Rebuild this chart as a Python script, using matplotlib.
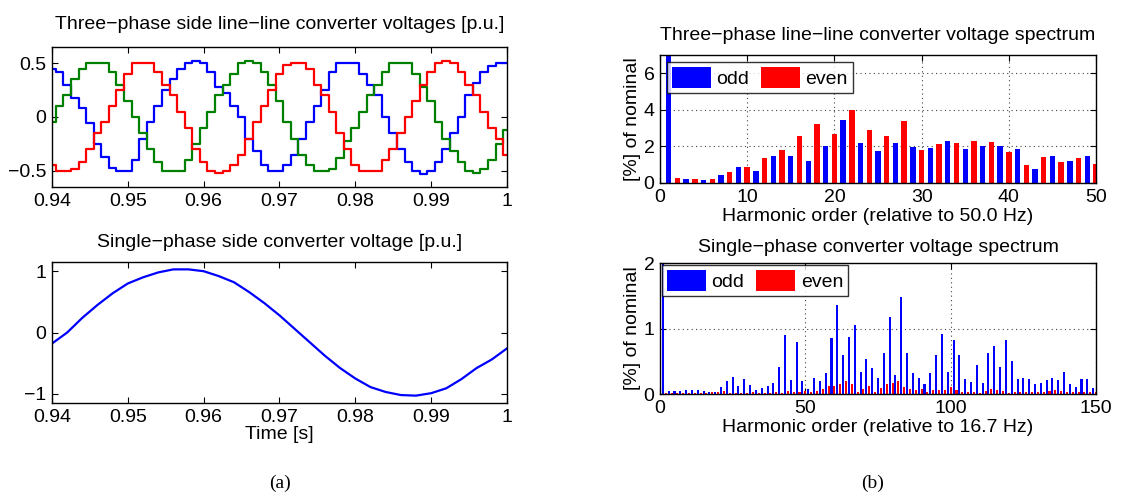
import numpy as np
import matplotlib
matplotlib.use("Agg")
import matplotlib.pyplot as plt
from matplotlib.ticker import FixedLocator

plt.rcParams["font.family"] = ["Liberation Sans", "DejaVu Sans"]
plt.rcParams["font.size"] = 14
plt.rcParams["axes.unicode_minus"] = True

MINUS = "\u2212"

# ---- time-domain waveforms (1 ms / 2 ms samples) ----
T3 = np.linspace(0.94, 1.0, 61)
V_BLUE = [0.45, 0.42, 0.30, 0.18, 0.08, -0.06, -0.25, -0.37, -0.47, -0.50,
          -0.50, -0.40, -0.20, -0.05, 0.10, 0.25, 0.35, 0.45, 0.50, 0.52,
          0.50, 0.42, 0.28, 0.22, 0.10, 0.00, -0.20, -0.32, -0.45, -0.50,
          -0.50, -0.45, -0.35, -0.20, -0.05, 0.10, 0.25, 0.42, 0.50, 0.50,
          0.50, 0.40, 0.30, 0.20, 0.00, -0.15, -0.30, -0.42, -0.50, -0.53,
          -0.50, -0.42, -0.30, -0.15, 0.00, 0.20, 0.32, 0.42, 0.47, 0.50,
          0.50]
V_RED = [-0.45, -0.50, -0.50, -0.48, -0.42, -0.30, -0.15, -0.05, 0.10, 0.25,
         0.40, 0.50, 0.50, 0.50, 0.42, 0.30, 0.20, 0.05, -0.10, -0.30,
         -0.42, -0.50, -0.52, -0.50, -0.45, -0.35, -0.20, -0.05, 0.10, 0.25,
         0.40, 0.48, 0.50, 0.50, 0.45, 0.30, 0.20, 0.05, -0.15, -0.30,
         -0.45, -0.50, -0.50, -0.50, -0.40, -0.30, -0.15, 0.00, 0.15, 0.30,
         0.42, 0.50, 0.52, 0.50, 0.42, 0.30, 0.20, 0.05, -0.10, -0.20,
         -0.35]
V_GREEN = [-0.05, 0.10, 0.20, 0.35, 0.45, 0.50, 0.50, 0.50, 0.42, 0.30,
           0.15, 0.00, -0.15, -0.30, -0.42, -0.50, -0.50, -0.50, -0.40, -0.25,
           -0.10, 0.05, 0.20, 0.30, 0.40, 0.50, 0.52, 0.50, 0.42, 0.30,
           0.15, -0.05, -0.20, -0.35, -0.45, -0.50, -0.50, -0.48, -0.38, -0.22,
           -0.10, 0.05, 0.20, 0.30, 0.42, 0.50, 0.50, 0.50, 0.40, 0.28,
           0.15, -0.05, -0.20, -0.32, -0.42, -0.50, -0.52, -0.48, -0.40, -0.25,
           -0.12]

T1 = np.linspace(0.94, 1.0, 31)
V_SINGLE = [-0.18, 0.00, 0.24, 0.45, 0.64, 0.80, 0.90, 0.98, 1.03, 1.03,
            1.00, 0.92, 0.82, 0.66, 0.48, 0.28, 0.06, -0.16, -0.38, -0.58,
            -0.75, -0.89, -0.97, -1.02, -1.03, -0.99, -0.91, -0.76, -0.58, -0.44,
            -0.26]

# ---- spectra, % of nominal (fundamental clipped by the axis) ----
H3_ODD = np.arange(1, 51, 2)
H3_EVEN = np.arange(2, 51, 2)
S3_ODD = [100, 0.22, 0.16, 0.45, 0.87, 0.67, 1.49, 1.49, 1.22, 2.04,
          3.45, 2.20, 1.76, 2.20, 1.98, 1.93, 2.31, 1.87, 2.04, 2.00,
          1.87, 0.78, 1.49, 1.22, 1.49]
S3_EVEN = [0.27, 0.22, 0.22, 0.60, 0.87, 1.38, 1.80, 2.58, 3.24, 2.69,
           4.00, 2.91, 2.58, 3.40, 1.82, 2.15, 2.20, 2.31, 2.25, 1.71,
           0.96, 1.44, 1.16, 1.38, 1.05]

H1_ODD = np.arange(1, 151, 2)
H1_EVEN = np.arange(2, 151, 2)
S1_ODD = [100, 0.05, 0.05, 0.05, 0.06, 0.06, 0.06, 0.05, 0.03, 0.03,
          0.11, 0.20, 0.26, 0.12, 0.23, 0.14, 0.06, 0.09, 0.12, 0.17,
          0.42, 0.90, 0.22, 0.80, 0.20, 0.08, 0.25, 0.20, 0.32, 0.85,
          1.36, 0.60, 0.87, 1.05, 0.34, 0.54, 0.40, 0.25, 0.63, 1.17,
          0.29, 1.48, 0.62, 0.32, 0.25, 0.15, 0.32, 0.60, 0.91, 0.34,
          0.82, 0.59, 0.23, 0.18, 0.45, 0.17, 0.62, 0.73, 0.42, 0.83,
          0.51, 0.23, 0.25, 0.23, 0.15, 0.17, 0.22, 0.25, 0.22, 0.34,
          0.15, 0.11, 0.23, 0.23, 0.09]
S1_EVEN = [0.02, 0.02, 0.02, 0.02, 0.02, 0.02, 0.02, 0.02, 0.03, 0.03,
           0.04, 0.02, 0.02, 0.02, 0.02, 0.03, 0.02, 0.02, 0.02, 0.03,
           0.02, 0.04, 0.03, 0.03, 0.05, 0.03, 0.04, 0.08, 0.12, 0.12,
           0.15, 0.20, 0.15, 0.03, 0.08, 0.12, 0.03, 0.09, 0.15, 0.17,
           0.20, 0.11, 0.08, 0.06, 0.08, 0.03, 0.06, 0.06, 0.06, 0.11,
           0.06, 0.03, 0.03, 0.03, 0.02, 0.04, 0.07, 0.06, 0.05, 0.02,
           0.03, 0.03, 0.03, 0.03, 0.03, 0.03, 0.05, 0.06, 0.05, 0.03,
           0.03, 0.03, 0.03, 0.03, 0.03]

BLUE, RED, GREEN = "#0000ff", "#ff0000", "#008000"
FS = 14


def _style(ax):
    ax.tick_params(direction="in", top=True, right=True, length=4, width=0.8,
                   labelsize=FS, pad=4)
    for s in ax.spines.values():
        s.set_linewidth(1.0)


def _fmt(v):
    return f"{v:g}".replace("-", MINUS)


def _time_axes(ax, yticks, ylim):
    ax.set_xlim(0.94, 1.0)
    ax.set_ylim(*ylim)
    xt = [0.94, 0.95, 0.96, 0.97, 0.98, 0.99, 1.0]
    ax.xaxis.set_major_locator(FixedLocator(xt))
    ax.set_xticklabels([_fmt(v) for v in xt])
    ax.yaxis.set_major_locator(FixedLocator(yticks))
    ax.set_yticklabels([_fmt(v) for v in yticks])
    _style(ax)


def _spectrum(ax, h_odd, s_odd, h_even, s_even, width, xlim, xticks, ylim, yticks,
              xlabel, leg_pad):
    ax.bar(h_odd, s_odd, width=width, color=BLUE, label="odd", zorder=2)
    ax.bar(h_even, s_even, width=width, color=RED, label="even", zorder=2)
    ax.set_xlim(*xlim)
    ax.set_ylim(*ylim)
    ax.xaxis.set_major_locator(FixedLocator(xticks))
    ax.yaxis.set_major_locator(FixedLocator(yticks))
    ax.grid(True, color="#444444", linestyle=(0, (1, 3)), linewidth=0.8, zorder=0)
    ax.set_axisbelow(True)
    ax.set_ylabel("[%] of nominal", fontsize=FS, labelpad=2)
    ax.set_xlabel(xlabel, fontsize=FS, labelpad=2)
    leg = ax.legend(loc="upper left", ncol=2, frameon=True, fancybox=False,
                    handlelength=2.0, handleheight=1.3, handletextpad=0.3,
                    columnspacing=0.6, borderpad=0.25, borderaxespad=leg_pad,
                    fontsize=FS)
    leg.get_frame().set_edgecolor("black")
    leg.get_frame().set_linewidth(1.0)
    _style(ax)


fig = plt.figure(figsize=(11.43, 4.94), dpi=100)

ax_tl = fig.add_axes([0.0455, 0.6215, 0.398, 0.2834])
ax_tl.plot(T3, V_BLUE, color=BLUE, lw=1.6, drawstyle="steps-mid")
ax_tl.plot(T3, V_GREEN, color=GREEN, lw=1.6, drawstyle="steps-mid")
ax_tl.plot(T3, V_RED, color=RED, lw=1.6, drawstyle="steps-mid")
_time_axes(ax_tl, [-0.5, 0, 0.5], (-0.65, 0.65))
ax_tl.set_title(f"Three{MINUS}phase side line{MINUS}line converter voltages [p.u.]",
                fontsize=FS, pad=13)

ax_bl = fig.add_axes([0.0455, 0.1842, 0.398, 0.2854])
ax_bl.plot(T1, V_SINGLE, color=BLUE, lw=1.6)
_time_axes(ax_bl, [-1, 0, 1], (-1.15, 1.15))
ax_bl.set_title(f"Single{MINUS}phase side converter voltage [p.u.]", fontsize=FS, pad=11)
ax_bl.set_xlabel("Time [s]", fontsize=FS, labelpad=0)

ax_tr = fig.add_axes([0.5774, 0.6296, 0.3815, 0.2591])
_spectrum(ax_tr, H3_ODD, S3_ODD, H3_EVEN, S3_EVEN, 0.62, (0, 50),
          [0, 10, 20, 30, 40, 50], (0, 7), [0, 2, 4, 6],
          "Harmonic order (relative to 50.0 Hz)", 0.35)
ax_tr.set_title(f"Three{MINUS}phase line{MINUS}line converter voltage spectrum",
                fontsize=FS, pad=11)

ax_br = fig.add_axes([0.5774, 0.2024, 0.3815, 0.2652])
_spectrum(ax_br, H1_ODD, S1_ODD, H1_EVEN, S1_EVEN, 0.7, (0, 150),
          [0, 50, 100, 150], (0, 2), [0, 1, 2],
          "Harmonic order (relative to 16.7 Hz)", 0.1)
ax_br.set_title(f"Single{MINUS}phase converter voltage spectrum", fontsize=FS, pad=8)

fig.text(280 / 1143, 1 - 483 / 494, "(a)", ha="center", va="center",
         family=["Liberation Serif", "DejaVu Serif"], fontsize=FS)
fig.text(873 / 1143, 1 - 483 / 494, "(b)", ha="center", va="center",
         family=["Liberation Serif", "DejaVu Serif"], fontsize=FS)

fig.savefig("out.png", dpi=100)
